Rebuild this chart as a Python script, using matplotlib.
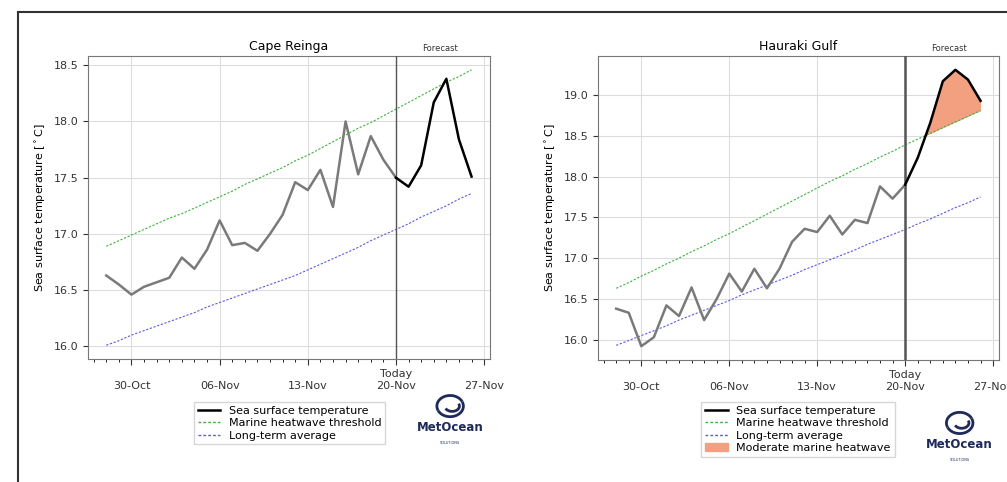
import numpy as np
import pandas as pd
import matplotlib
matplotlib.use("Agg")
import matplotlib.pyplot as plt
import matplotlib.dates as mdates
from matplotlib.lines import Line2D
from matplotlib.patches import Arc

# daily values 28-Oct .. 26-Nov
dates = pd.date_range("2023-10-28", "2023-11-26", freq="D")
today = pd.Timestamp("2023-11-20")

cape_sst = [16.63, 16.55, 16.46, 16.53, 16.57, 16.61, 16.79, 16.69, 16.86, 17.12,
            16.90, 16.92, 16.85, 17.00, 17.17, 17.46, 17.39, 17.57, 17.24, 18.00,
            17.53, 17.87, 17.66, 17.50, 17.42, 17.61, 18.17, 18.38, 17.84, 17.51]
cape_thresh = [16.89, 16.94, 16.99, 17.04, 17.09, 17.14, 17.18, 17.23, 17.28, 17.33,
               17.38, 17.44, 17.49, 17.54, 17.59, 17.65, 17.70, 17.76, 17.82, 17.88,
               17.94, 17.99, 18.05, 18.11, 18.17, 18.23, 18.29, 18.35, 18.40, 18.46]
cape_avg = [16.01, 16.05, 16.10, 16.14, 16.18, 16.22, 16.26, 16.30, 16.35, 16.39,
            16.43, 16.47, 16.51, 16.55, 16.59, 16.63, 16.68, 16.73, 16.78, 16.83,
            16.88, 16.94, 16.99, 17.04, 17.09, 17.15, 17.20, 17.25, 17.31, 17.36]

hauraki_sst = [16.38, 16.33, 15.92, 16.03, 16.42, 16.29, 16.64, 16.24, 16.50, 16.81,
               16.59, 16.87, 16.63, 16.87, 17.20, 17.36, 17.32, 17.52, 17.29, 17.47,
               17.43, 17.88, 17.73, 17.90, 18.23, 18.66, 19.17, 19.31, 19.19, 18.93]
hauraki_thresh = [16.63, 16.70, 16.78, 16.85, 16.93, 17.00, 17.08, 17.15, 17.23, 17.30,
                  17.38, 17.46, 17.54, 17.62, 17.70, 17.78, 17.86, 17.94, 18.01, 18.09,
                  18.16, 18.24, 18.31, 18.39, 18.46, 18.53, 18.60, 18.67, 18.74, 18.81]
hauraki_avg = [15.93, 15.99, 16.05, 16.11, 16.17, 16.24, 16.30, 16.36, 16.42, 16.48,
               16.55, 16.61, 16.67, 16.73, 16.79, 16.86, 16.92, 16.98, 17.04, 17.10,
               17.17, 17.23, 17.29, 17.35, 17.42, 17.48, 17.55, 17.62, 17.68, 17.75]

tick_dates = pd.to_datetime(["2023-10-30", "2023-11-06", "2023-11-13", "2023-11-20", "2023-11-27"])
tick_labels = ["\n30-Oct", "\n06-Nov", "\n13-Nov", "Today\n20-Nov", "\n27-Nov"]

FS = 8
GREEN = "#3cb33c"
BLUE = "#5a5ae6"
FILL = "#f3a080"


def panel(ax, title, sst, thresh, avg, today_lw, fill=False):
    sst = np.array(sst)
    thresh = np.array(thresh)
    past = dates <= today
    fut = dates >= today
    ax.plot(dates[past], sst[past], color="#7a7a7a", lw=1.8, zorder=4)
    ax.plot(dates[fut], sst[fut], color="black", lw=1.8, zorder=4)
    ax.plot(dates, thresh, color=GREEN, lw=0.8, ls=(0, (2, 1.5)), zorder=3)
    ax.plot(dates, avg, color=BLUE, lw=0.8, ls=(0, (2, 1.5)), zorder=3)
    if fill:
        ax.fill_between(dates, thresh, sst, where=(sst > thresh) & fut,
                        interpolate=True, color=FILL, lw=0, zorder=2)
    ax.axvline(today, color="#555555", lw=today_lw, zorder=3)
    ax.set_title(title, fontsize=9, pad=4)
    ax.set_ylabel("Sea surface temperature [$^\\circ$C]", fontsize=FS)
    ax.set_xticks(tick_dates)
    ax.set_xticklabels(tick_labels)
    ax.xaxis.set_minor_locator(mdates.DayLocator())
    ax.tick_params(axis="both", labelsize=FS, colors="#333333")
    ax.tick_params(axis="x", which="major", length=4)
    ax.tick_params(axis="x", which="minor", length=2)
    ax.grid(True, color="#dddddd", lw=0.8)
    for s in ax.spines.values():
        s.set_color("#777777")
    ax.text(0.875, 1.01, "Forecast", transform=ax.transAxes, ha="center",
            va="bottom", fontsize=6, color="#333333")
    ax.set_axisbelow(True)


def logo(fig, x, y):
    lax = fig.add_axes([x - 0.02, y + 0.005, 0.04, 0.055])
    lax.set_aspect("equal")
    lax.axis("off")
    c = "#1d2a5a"
    lax.add_patch(Arc((0, 0), 2.0, 1.6, theta1=20, theta2=200, lw=2, color=c))
    lax.add_patch(Arc((0, 0), 2.0, 1.6, theta1=200, theta2=380, lw=2, color=c))
    lax.add_patch(Arc((0.15, 0), 1.1, 0.8, theta1=200, theta2=20, lw=2, color=c))
    lax.set_xlim(-1.3, 1.3)
    lax.set_ylim(-1.0, 1.0)
    fig.text(x, y - 0.012, "MetOcean", ha="center", va="center", fontsize=8.5,
             fontweight="bold", color=c)
    fig.text(x, y - 0.045, "SOLUTIONS", ha="center", va="center", fontsize=2.5,
             color=c)


fig = plt.figure(figsize=(10.07, 4.82), dpi=100)
ax1 = fig.add_axes([0.0874, 0.2552, 0.399, 0.6286])
ax2 = fig.add_axes([0.5938, 0.2531, 0.398, 0.6307])

panel(ax1, "Cape Reinga", cape_sst, cape_thresh, cape_avg, 1.0)
panel(ax2, "Hauraki Gulf", hauraki_sst, hauraki_thresh, hauraki_avg, 1.8, fill=True)

h_sst = Line2D([], [], color="black", lw=1.8)
h_thr = Line2D([], [], color=GREEN, lw=1.0, ls=(0, (2, 1.5)))
h_avg = Line2D([], [], color=BLUE, lw=1.0, ls=(0, (2, 1.5)))
h_fill = plt.Rectangle((0, 0), 1, 1, color=FILL)

leg_kw = dict(fontsize=FS, frameon=True, fancybox=False, edgecolor="#cccccc",
              handlelength=2.0, borderpad=0.35, labelspacing=0.2)
fig.legend([h_sst, h_thr, h_avg],
           ["Sea surface temperature", "Marine heatwave threshold", "Long-term average"],
           loc="upper left", bbox_to_anchor=(0.187, 0.177), **leg_kw)
fig.legend([h_sst, h_thr, h_avg, h_fill],
           ["Sea surface temperature", "Marine heatwave threshold", "Long-term average",
            "Moderate marine heatwave"],
           loc="upper left", bbox_to_anchor=(0.691, 0.177), **leg_kw)

logo(fig, 0.447, 0.125)
logo(fig, 0.953, 0.09)

# outer frame
fig.add_artist(Line2D([0.018, 0.018], [0, 0.975], color="#333333", lw=1.5))
fig.add_artist(Line2D([0.018, 1.0], [0.975, 0.975], color="#333333", lw=1.5))

fig.savefig("out.png", dpi=100)
